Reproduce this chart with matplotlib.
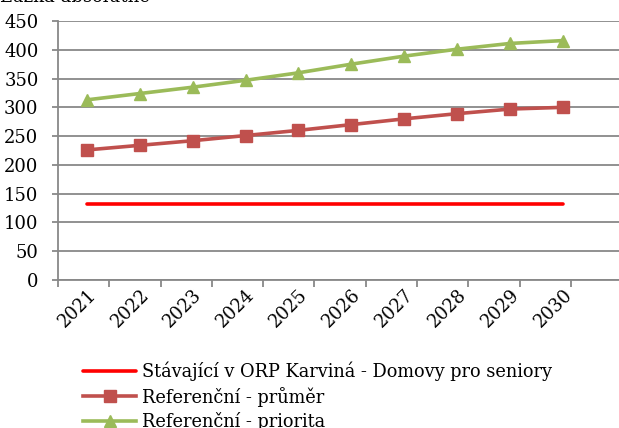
import matplotlib.pyplot as plt
import numpy as np

years = ["2021", "2022", "2023", "2024", "2025", "2026", "2027", "2028", "2029", "2030"]
stavajici = [132, 132, 132, 132, 132, 132, 132, 132, 132, 132]
prumer = [226, 234, 242, 251, 260, 270, 280, 289, 297, 300]
priorita = [313, 324, 335, 347, 360, 375, 389, 401, 411, 416]

plt.rcParams["font.family"] = ["DejaVu Serif"]
plt.rcParams["font.size"] = 12.8

fig = plt.figure(figsize=(6.19, 4.28), dpi=100)
ax = fig.add_axes([58 / 619, 1 - 280 / 428, 1 - 58 / 619, (280 - 21) / 428])

x = np.arange(len(years))
ax.plot(x, stavajici, color="#FF0000", lw=2.6, solid_capstyle="round",
        label="Stávající v ORP Karviná - Domovy pro seniory")
ax.plot(x, prumer, color="#C0504D", lw=2.6, marker="s", ms=8,
        label="Referenční - průměr")
ax.plot(x, priorita, color="#9BBB59", lw=2.6, marker="^", ms=9,
        label="Referenční - priorita")

ax.set_ylim(0, 450)
ax.set_yticks(range(0, 451, 50))
ax.set_xlim(-0.53, 10.06)
ax.grid(axis="y", color="#888888", lw=1.3)
ax.set_axisbelow(True)
for s in ["top", "right"]:
    ax.spines[s].set_visible(False)
for s in ["left", "bottom"]:
    ax.spines[s].set_color("#888888")
    ax.spines[s].set_linewidth(1.3)
ax.tick_params(axis="y", length=4, color="#888888", width=1.3, pad=10, labelsize=13)

ax.set_xticks(x)
ax.set_xticklabels(years, rotation=45, ha="right", rotation_mode="anchor")
ax.tick_params(axis="x", length=0, pad=4, labelsize=13)
ax.set_xticks([(57 + 51.4 * k - 86) / 53 for k in range(11)], minor=True)
ax.tick_params(axis="x", which="minor", length=5, color="#888888", width=1.3)

fig.text(0.0, 1.0 + 12 / 428, "Lůžka absolutně", ha="left", va="top", fontsize=13)

fig.legend(loc="upper left", bbox_to_anchor=(74 / 619, 1 - 353 / 428), frameon=False,
           handlelength=3.0, handletextpad=0.35, labelspacing=0.3, borderpad=0,
           fontsize=12.8)

fig.savefig("out.png", dpi=100)
